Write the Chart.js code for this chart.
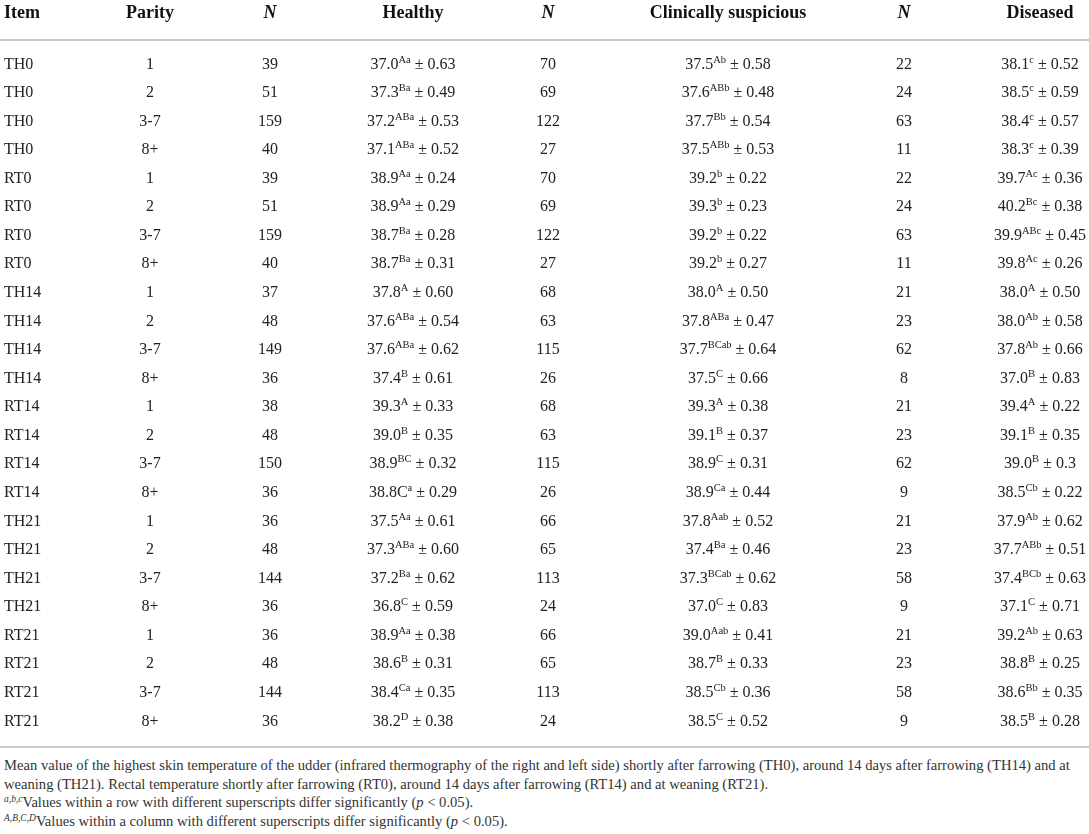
<!DOCTYPE html>
<html>
<head>
<meta charset="utf-8">
<title>Udder and rectal temperature by parity</title>
<script src="https://cdn.jsdelivr.net/npm/chart.js@4/dist/chart.umd.min.js"></script>
<style>
  html, body { margin: 0; padding: 0; background: #fff; }
  #wrap { position: relative; width: 1089px; height: 756px; }
  #notes {
    font-family: "Liberation Serif", "Times New Roman", serif;
    font-size: 14.6px;
    line-height: 18.6px;
    color: #333;
    padding-left: 4px;
    white-space: nowrap;
  }
  #notes sup { font-size: 9.5px; font-style: italic; vertical-align: 5px; line-height: 0; }
</style>
</head>
<body>
<div id="wrap"><canvas id="table"></canvas></div>
<div id="notes">
  <div>Mean value of the highest skin temperature of the udder (infrared thermography of the right and left side) shortly after farrowing (TH0), around 14 days after farrowing (TH14) and at</div>
  <div>weaning (TH21). Rectal temperature shortly after farrowing (RT0), around 14 days after farrowing (RT14) and at weaning (RT21).</div>
  <div><sup>a,b,c</sup>Values within a row with different superscripts differ significantly (<i>p</i> &lt; 0.05).</div>
  <div><sup>A,B,C,D</sup>Values within a column with different superscripts differ significantly (<i>p</i> &lt; 0.05).</div>
</div>
<script>
// column headers
const headers = ['Item', 'Parity', 'N', 'Healthy', 'N', 'Clinically suspicious', 'N', 'Diseased'];

// row data
const items = ['TH0', 'TH0', 'TH0', 'TH0', 'RT0', 'RT0', 'RT0', 'RT0',
  'TH14', 'TH14', 'TH14', 'TH14', 'RT14', 'RT14', 'RT14', 'RT14',
  'TH21', 'TH21', 'TH21', 'TH21', 'RT21', 'RT21', 'RT21', 'RT21'];
const parity = ['1', '2', '3-7', '8+', '1', '2', '3-7', '8+',
  '1', '2', '3-7', '8+', '1', '2', '3-7', '8+',
  '1', '2', '3-7', '8+', '1', '2', '3-7', '8+'];

const nHealthy = [39, 51, 159, 40, 39, 51, 159, 40, 37, 48, 149, 36, 38, 48, 150, 36, 36, 48, 144, 36, 36, 48, 144, 36];
const healthyMean = ['37.0', '37.3', '37.2', '37.1', '38.9', '38.9', '38.7', '38.7',
  '37.8', '37.6', '37.6', '37.4', '39.3', '39.0', '38.9', '38.8C',
  '37.5', '37.3', '37.2', '36.8', '38.9', '38.6', '38.4', '38.2'];
const healthySup = ['Aa', 'Ba', 'ABa', 'ABa', 'Aa', 'Aa', 'Ba', 'Ba',
  'A', 'ABa', 'ABa', 'B', 'A', 'B', 'BC', 'a',
  'Aa', 'ABa', 'Ba', 'C', 'Aa', 'B', 'Ca', 'D'];
const healthySD = ['0.63', '0.49', '0.53', '0.52', '0.24', '0.29', '0.28', '0.31',
  '0.60', '0.54', '0.62', '0.61', '0.33', '0.35', '0.32', '0.29',
  '0.61', '0.60', '0.62', '0.59', '0.38', '0.31', '0.35', '0.38'];

const nSuspicious = [70, 69, 122, 27, 70, 69, 122, 27, 68, 63, 115, 26, 68, 63, 115, 26, 66, 65, 113, 24, 66, 65, 113, 24];
const suspiciousMean = ['37.5', '37.6', '37.7', '37.5', '39.2', '39.3', '39.2', '39.2',
  '38.0', '37.8', '37.7', '37.5', '39.3', '39.1', '38.9', '38.9',
  '37.8', '37.4', '37.3', '37.0', '39.0', '38.7', '38.5', '38.5'];
const suspiciousSup = ['Ab', 'ABb', 'Bb', 'ABb', 'b', 'b', 'b', 'b',
  'A', 'ABa', 'BCab', 'C', 'A', 'B', 'C', 'Ca',
  'Aab', 'Ba', 'BCab', 'C', 'Aab', 'B', 'Cb', 'C'];
const suspiciousSD = ['0.58', '0.48', '0.54', '0.53', '0.22', '0.23', '0.22', '0.27',
  '0.50', '0.47', '0.64', '0.66', '0.38', '0.37', '0.31', '0.44',
  '0.52', '0.46', '0.62', '0.83', '0.41', '0.33', '0.36', '0.52'];

const nDiseased = [22, 24, 63, 11, 22, 24, 63, 11, 21, 23, 62, 8, 21, 23, 62, 9, 21, 23, 58, 9, 21, 23, 58, 9];
const diseasedMean = ['38.1', '38.5', '38.4', '38.3', '39.7', '40.2', '39.9', '39.8',
  '38.0', '38.0', '37.8', '37.0', '39.4', '39.1', '39.0', '38.5',
  '37.9', '37.7', '37.4', '37.1', '39.2', '38.8', '38.6', '38.5'];
const diseasedSup = ['c', 'c', 'c', 'c', 'Ac', 'Bc', 'ABc', 'Ac',
  'A', 'Ab', 'Ab', 'B', 'A', 'B', 'B', 'Cb',
  'Ab', 'ABb', 'BCb', 'C', 'Ab', 'B', 'Bb', 'B'];
const diseasedSD = ['0.52', '0.59', '0.57', '0.39', '0.36', '0.38', '0.45', '0.26',
  '0.50', '0.58', '0.66', '0.83', '0.22', '0.35', '0.3', '0.22',
  '0.62', '0.51', '0.63', '0.71', '0.63', '0.25', '0.35', '0.28'];

// layout: column centres on the x scale (Item is left aligned)
const colX = [4, 150, 270, 413, 548, 728, 904, 1040];
const headerRow = -1.785, headRule = -0.805, footRule = 23.945;
const ink = '#222', ruleColor = '#c9c9c9';
const serif = '"Liberation Serif", "Times New Roman", serif';

function plainCells(arr) {
  return arr.map(v => ({ main: String(v) }));
}
function statCells(mean, sup, sd) {
  return mean.map((m, i) => ({ main: m, sup: sup[i], tail: ' \u00b1 ' + sd[i] }));
}

const columns = [
  { cells: plainCells(items), align: 'left' },
  { cells: plainCells(parity) },
  { cells: plainCells(nHealthy) },
  { cells: statCells(healthyMean, healthySup, healthySD) },
  { cells: plainCells(nSuspicious) },
  { cells: statCells(suspiciousMean, suspiciousSup, suspiciousSD) },
  { cells: plainCells(nDiseased) },
  { cells: statCells(diseasedMean, diseasedSup, diseasedSD) }
];

const datasets = columns.map((col, c) => ({
  label: headers[c],
  data: col.cells.map((_, r) => ({ x: colX[c], y: r })),
  cells: col.cells,
  align: col.align || 'center',
  pointRadius: 0,
  pointHoverRadius: 0,
  showLine: false
}));

function drawCell(ctx, cell, x, y, align) {
  const base = y + 5.5;
  ctx.font = '16px ' + serif;
  const wMain = ctx.measureText(cell.main).width;
  let wSup = 0, wTail = 0;
  if (cell.sup) {
    ctx.font = '10.5px ' + serif;
    wSup = ctx.measureText(cell.sup).width;
  }
  if (cell.tail) {
    ctx.font = '16px ' + serif;
    wTail = ctx.measureText(cell.tail).width;
  }
  const total = wMain + wSup + wTail;
  let left = align === 'left' ? x : x - total / 2;
  ctx.textAlign = 'left';
  ctx.textBaseline = 'alphabetic';
  ctx.fillStyle = ink;
  ctx.font = '16px ' + serif;
  ctx.fillText(cell.main, left, base);
  left += wMain;
  if (cell.sup) {
    ctx.font = '10.5px ' + serif;
    ctx.fillText(cell.sup, left, base - 6);
    left += wSup;
  }
  if (cell.tail) {
    ctx.font = '16px ' + serif;
    ctx.fillText(cell.tail, left, base);
  }
}

const tablePlugin = {
  id: 'tableCells',
  afterDatasetsDraw(chart) {
    const ctx = chart.ctx;
    const xs = chart.scales.x, ys = chart.scales.y;
    ctx.save();

    // header row
    const hy = ys.getPixelForValue(headerRow) + 6;
    headers.forEach((h, c) => {
      ctx.font = (h === 'N' ? 'italic bold ' : 'bold ') + '18px ' + serif;
      ctx.fillStyle = '#111';
      ctx.textBaseline = 'alphabetic';
      ctx.textAlign = c === 0 ? 'left' : 'center';
      ctx.fillText(h, xs.getPixelForValue(colX[c]), hy);
    });

    // rules
    ctx.strokeStyle = ruleColor;
    ctx.lineWidth = 2;
    [headRule, footRule].forEach(v => {
      const py = Math.round(ys.getPixelForValue(v));
      ctx.beginPath();
      ctx.moveTo(chart.chartArea.left, py);
      ctx.lineTo(chart.chartArea.right, py);
      ctx.stroke();
    });

    // body cells
    chart.data.datasets.forEach((ds, i) => {
      const meta = chart.getDatasetMeta(i);
      meta.data.forEach((pt, r) => drawCell(ctx, ds.cells[r], pt.x, pt.y, ds.align));
    });
    ctx.restore();
  }
};

new Chart(document.getElementById('table'), {
  type: 'scatter',
  data: { datasets: datasets },
  plugins: [tablePlugin],
  options: {
    responsive: true,
    maintainAspectRatio: false,
    animation: false,
    events: [],
    layout: { padding: 0 },
    plugins: {
      legend: { display: false },
      tooltip: { enabled: false }
    },
    scales: {
      x: { type: 'linear', min: 0, max: 1089, display: false },
      y: { type: 'linear', min: -2.2055, max: 24.26, reverse: true, display: false }
    }
  }
});
</script>
</body>
</html>
